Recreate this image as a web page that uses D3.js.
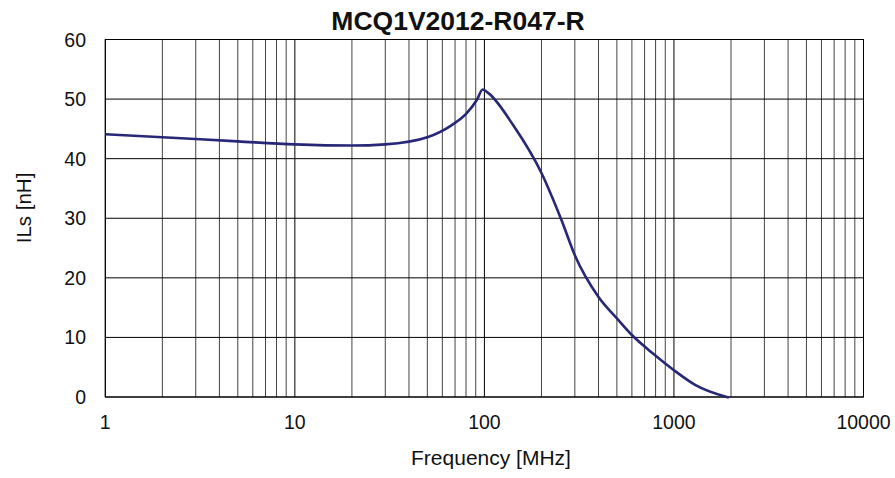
<!DOCTYPE html>
<html><head><meta charset="utf-8">
<script src="https://cdn.jsdelivr.net/npm/d3@7"></script>
<style>body{margin:0;background:#fff;} text{font-family:Arial,"Liberation Sans",sans-serif;}</style>
</head><body><svg id="c" width="895" height="478"></svg>
<script>
const title = "MCQ1V2012-R047-R";
const xLabel = "Frequency [MHz]";
const yLabel = "ILs [nH]";
const xTicks = [1, 10, 100, 1000, 10000];
const yTicks = [0, 10, 20, 30, 40, 50, 60];
const freq = [1, 2, 5, 10, 20, 30, 50, 67, 80, 91, 98, 105, 142, 200, 255, 300, 400, 500, 600, 775, 1000, 1300, 1900, 1950];
const ils  = [44.1, 43.6, 42.9, 42.4, 42.2, 42.4, 43.6, 45.6, 47.5, 49.8, 51.6, 51.0, 45.6, 37.6, 29.7, 23.8, 16.8, 13.2, 10.4, 7.3, 4.5, 2.0, 0.0, -0.1];

const svg = d3.select("#c");
const L = 105.3, R = 863.5, T = 39.5, B = 397;
const x = d3.scaleLog().domain([1, 10000]).range([L, R]);
const y = d3.scaleLinear().domain([0, 60]).range([B, T]);

const g = svg.append("g");
const minor = [];
for (let d = 1; d < 10000; d *= 10) for (let k = 2; k <= 9; k++) minor.push(d * k);
g.selectAll(".mv").data(minor).enter().append("line")
  .attr("x1", d => x(d)).attr("x2", d => x(d)).attr("y1", T).attr("y2", B)
  .attr("stroke", "#444").attr("stroke-width", 1);
g.selectAll(".Mv").data(xTicks).enter().append("line")
  .attr("x1", d => x(d)).attr("x2", d => x(d)).attr("y1", T).attr("y2", B)
  .attr("stroke", "#000").attr("stroke-width", 1);
g.selectAll(".h").data(yTicks).enter().append("line")
  .attr("x1", L).attr("x2", R).attr("y1", d => y(d)).attr("y2", d => y(d))
  .attr("stroke", "#000").attr("stroke-width", 1);
g.append("rect").attr("x", L).attr("y", T).attr("width", R - L).attr("height", B - T)
  .attr("fill", "none").attr("stroke", "#000").attr("stroke-width", 1);

const data = freq.map((f, i) => [f, ils[i]]);
svg.append("path").datum(data)
  .attr("d", d3.line().x(d => x(d[0])).y(d => y(d[1])).curve(d3.curveMonotoneX))
  .attr("fill", "none").attr("stroke", "#272777").attr("stroke-width", 2.6);

svg.selectAll(".xt").data(xTicks).enter().append("text")
  .attr("x", d => x(d)).attr("y", 429).attr("text-anchor", "middle")
  .attr("font-size", 19.5).attr("fill", "#111").text(d => d);
svg.selectAll(".yt").data(yTicks).enter().append("text")
  .attr("x", 86).attr("y", d => y(d) + 7).attr("text-anchor", "end")
  .attr("font-size", 19.5).attr("fill", "#111").text(d => d);

svg.append("text").attr("x", 458).attr("y", 29.5).attr("text-anchor", "middle")
  .attr("font-size", 26.5).attr("font-weight", "bold").attr("fill", "#111").text(title);
svg.append("text").attr("x", 491).attr("y", 465).attr("text-anchor", "middle")
  .attr("font-size", 21).attr("fill", "#111").text(xLabel);
svg.append("text").attr("transform", "translate(31,208) rotate(-90)").attr("text-anchor", "middle")
  .attr("font-size", 20.5).attr("fill", "#111").text(yLabel);
</script></body></html>
